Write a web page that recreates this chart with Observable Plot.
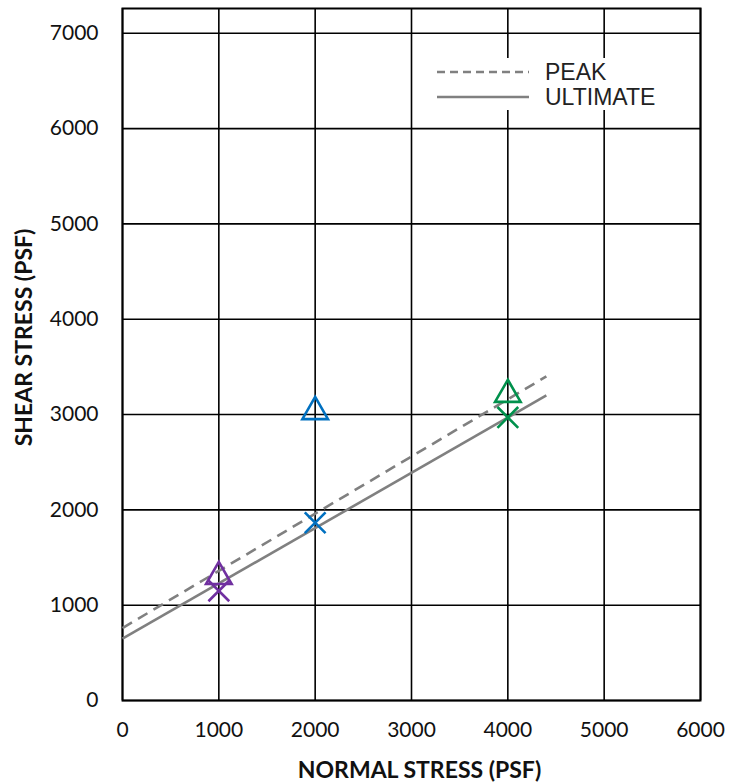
<!DOCTYPE html>
<html><head><meta charset="utf-8">
<script src="https://cdn.jsdelivr.net/npm/d3@7"></script>
<script src="https://cdn.jsdelivr.net/npm/@observablehq/plot@0.6"></script>
<style>
body{margin:0;background:#fff;}
#wrap{position:relative;width:740px;height:782px;}
#legend{position:absolute;left:432px;top:58px;width:266px;height:52px;background:#fff;}
</style>
</head><body>
<div id="wrap"></div>
<script>
const xTicks = [0,1000,2000,3000,4000,5000,6000];
const yTicks = [0,1000,2000,3000,4000,5000,6000,7000];
const pointX = [1000,1000,2000,2000,4000,4000];
const pointY = [1300,1150,3030,1865,3210,2970];
const pointType = ["peak","ult","peak","ult","peak","ult"];
const pointColor = ["#7030A0","#7030A0","#0070C0","#0070C0","#00914C","#00914C"];
const lineName = ["PEAK","ULTIMATE"];
const lineX0 = [0,0];
const lineY0 = [760,650];
const lineX1 = [4400,4400];
const lineY1 = [3400,3200];

const points = pointX.map((x,i)=>({x, y:pointY[i], type:pointType[i], color:pointColor[i]}));
const lines = lineName.map((n,i)=>({name:n, x1:lineX0[i], y1:lineY0[i], x2:lineX1[i], y2:lineY1[i]}));

const font = "Lato, 'Open Sans', 'Noto Sans', sans-serif";
const chart = Plot.plot({
  width:740, height:782,
  marginLeft:122, marginRight:40, marginTop:8, marginBottom:82,
  style:{fontFamily:font, fontSize:"21px", color:"#111", background:"#fff"},
  x:{domain:[0,6000], label:null},
  y:{domain:[0,7260], label:null},
  marks:[
    Plot.gridX(xTicks,{stroke:"#000", strokeOpacity:1, strokeWidth:1.6}),
    Plot.gridY(yTicks,{stroke:"#000", strokeOpacity:1, strokeWidth:1.6}),
    Plot.frame({stroke:"#000", strokeWidth:2}),
    Plot.link(lines.filter(d=>d.name==="PEAK"),{x1:"x1",y1:"y1",x2:"x2",y2:"y2",stroke:"#808080",strokeWidth:2.6,strokeDasharray:"11,7"}),
    Plot.link(lines.filter(d=>d.name==="ULTIMATE"),{x1:"x1",y1:"y1",x2:"x2",y2:"y2",stroke:"#808080",strokeWidth:2.6}),
    Plot.dot(points.filter(d=>d.type==="peak"),{x:"x",y:"y",symbol:"triangle",r:9.5,stroke:d=>d.color,strokeWidth:2.6,fill:"none"}),
    Plot.dot(points.filter(d=>d.type==="ult"),{x:"x",y:"y",symbol:"times",r:9.5,stroke:d=>d.color,strokeWidth:2.6}),
    Plot.axisX(xTicks,{tickSize:0, tickPadding:22, tickFormat:d=>String(d), label:"NORMAL STRESS (PSF)", labelAnchor:"center", labelArrow:"none", labelOffset:77, fontSize:21}),
    Plot.axisY(yTicks,{tickSize:0, tickPadding:24, tickFormat:d=>String(d), label:"SHEAR STRESS (PSF)", labelAnchor:"center", labelArrow:"none", labelOffset:107, fontSize:21})
  ]
});
const sel = d3.select(chart);
sel.selectAll("[aria-label='x-axis label'] text, [aria-label='y-axis label'] text, [aria-label='x-axis label'], [aria-label='y-axis label']")
  .style("font-weight","bold").style("font-size","23px");
sel.selectAll("[aria-label='x-axis label'] text").attr("dx", 8);
sel.selectAll("[aria-label='y-axis label'] text").attr("dx", 17);
document.getElementById("wrap").appendChild(chart);

const leg = document.createElement("div");
leg.id = "legend";
leg.innerHTML = `<svg width="266" height="52" style="position:absolute;left:0;top:0">
  <line x1="5" y1="14" x2="97" y2="14" stroke="#808080" stroke-width="2.6" stroke-dasharray="8,5"/>
  <line x1="5" y1="39" x2="97" y2="39" stroke="#808080" stroke-width="2.6"/>
  <text x="113" y="22" font-family="Liberation Sans, Arial, sans-serif" font-size="23" fill="#222">${lineName[0]}</text>
  <text x="113" y="47" font-family="Liberation Sans, Arial, sans-serif" font-size="23" fill="#222">${lineName[1]}</text>
</svg>`;
document.getElementById("wrap").appendChild(leg);
</script>
</body></html>
